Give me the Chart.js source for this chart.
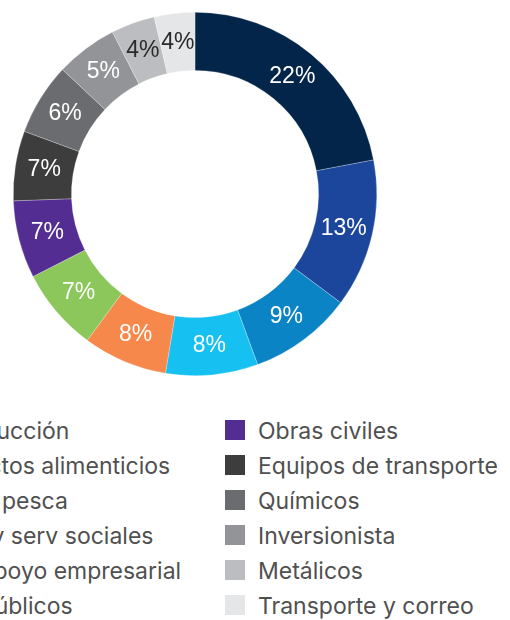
<!DOCTYPE html>
<html>
<head>
<meta charset="utf-8">
<script src="https://cdn.jsdelivr.net/npm/chart.js@4/dist/chart.umd.min.js"></script>
<style>
  html, body { margin: 0; padding: 0; background: #fff; }
  body { width: 510px; height: 620px; overflow: hidden; position: relative; }
  #wrap { position: absolute; left: 0; top: 0; width: 510px; height: 390px; }
  #legend { position: absolute; left: -109px; top: 420px; display: flex; }
  .col { width: 334px; }
  .item { display: flex; align-items: center; height: 20px; margin-bottom: 15px; white-space: nowrap; }
  .box { width: 20px; height: 20px; margin-right: 13px; flex: none; }
  .txt { font: 23px Inter, "Noto Sans", sans-serif; color: #505050; line-height: 20px; position: relative; top: 1px; }
</style>
</head>
<body>
<div id="wrap"><canvas id="chart"></canvas></div>
<div id="legend"></div>
<script>
const sectors = [
  'Construcción', 'Productos alimenticios', 'Agro y pesca', 'Salud y serv sociales',
  'Serv apoyo empresarial', 'Serv públicos', 'Obras civiles', 'Equipos de transporte',
  'Químicos', 'Inversionista', 'Metálicos', 'Transporte y correo'
];
const shares = [22.0, 13.2, 9.2, 8.2, 7.5, 7.4, 6.9, 6.2, 6.4, 5.5, 3.9, 3.6];
const pctLabels = ['22%', '13%', '9%', '8%', '8%', '7%', '7%', '7%', '6%', '5%', '4%', '4%'];
const colors = [
  '#04254a', '#1b469c', '#0b84c6', '#16c1f1', '#f5884a', '#8bc75a',
  '#532d91', '#3d3d3d', '#6b6c70', '#939497', '#bcbdc0', '#e5e6e8'
];
const labelColors = [
  '#fff', '#fff', '#fff', '#fff', '#fff', '#fff',
  '#fff', '#fff', '#fff', '#fff', '#2a2a2a', '#2a2a2a'
];

// percentages drawn in the middle of each ring slice
const pctLabelPlugin = {
  id: 'pctLabels',
  afterDatasetsDraw(chart) {
    const ctx = chart.ctx;
    const meta = chart.getDatasetMeta(0);
    ctx.save();
    ctx.font = '23px "Liberation Sans", Arial, sans-serif';
    ctx.textAlign = 'center';
    ctx.textBaseline = 'middle';
    meta.data.forEach((arc, i) => {
      const p = arc.tooltipPosition();
      ctx.fillStyle = labelColors[i];
      ctx.fillText(pctLabels[i], p.x, p.y);
    });
    ctx.restore();
  }
};

new Chart(document.getElementById('chart'), {
  type: 'doughnut',
  data: {
    labels: sectors,
    datasets: [{
      data: shares,
      backgroundColor: colors,
      borderColor: 'rgba(255,255,255,0.5)',
      borderWidth: 0.5
    }]
  },
  options: {
    responsive: true,
    maintainAspectRatio: false,
    animation: false,
    cutout: '68%',
    layout: { padding: { left: 13, right: 133, top: 12, bottom: 14 } },
    plugins: {
      legend: { display: false },
      tooltip: { enabled: false }
    }
  },
  plugins: [pctLabelPlugin]
});

// two column legend, first six on the left
const legend = document.getElementById('legend');
[sectors.slice(0, 6), sectors.slice(6)].forEach((names, c) => {
  const col = document.createElement('div');
  col.className = 'col';
  names.forEach((name, j) => {
    const item = document.createElement('div');
    item.className = 'item';
    const box = document.createElement('span');
    box.className = 'box';
    box.style.background = colors[c * 6 + j];
    const txt = document.createElement('span');
    txt.className = 'txt';
    txt.textContent = name;
    item.appendChild(box);
    item.appendChild(txt);
    col.appendChild(item);
  });
  legend.appendChild(col);
});
</script>
</body>
</html>
